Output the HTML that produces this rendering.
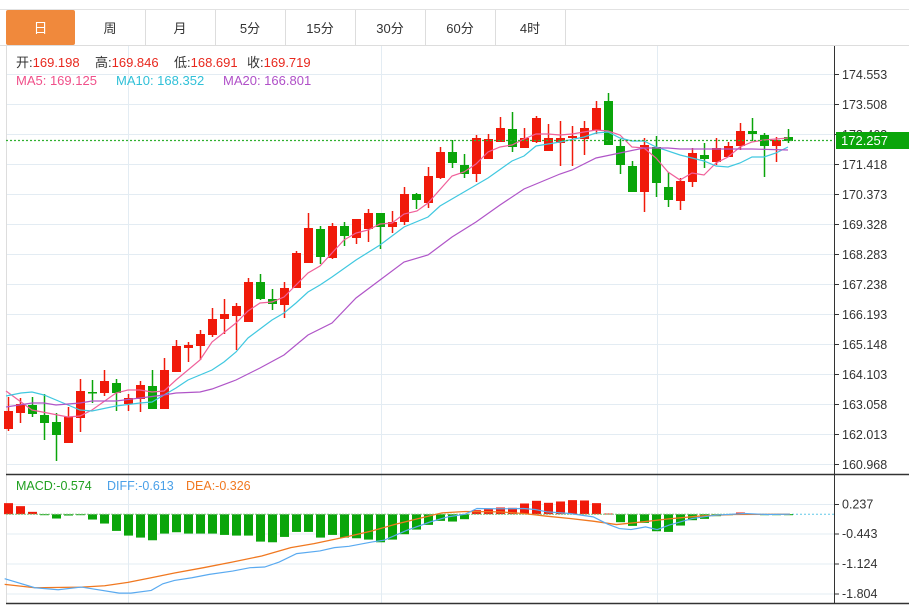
<!DOCTYPE html>
<html><head><meta charset="utf-8"><style>
body{margin:0;background:#fff;width:909px;height:606px;overflow:hidden;font-family:"Liberation Sans","Noto Sans CJK SC",sans-serif}
</style></head><body>
<svg id="s" width="909" height="606" xmlns="http://www.w3.org/2000/svg" font-family="Liberation Sans, Noto Sans CJK SC, sans-serif"></svg>
<script>
var s=document.getElementById('s'),h='';
function L(x1,y1,x2,y2,c,w,d){h+='<line x1="'+x1+'" y1="'+y1+'" x2="'+x2+'" y2="'+y2+'" stroke="'+c+'" stroke-width="'+(w||1)+'"'+(d?' stroke-dasharray="'+d+'"':'')+'/>';}
function R(x,y,w,hh,c){h+='<rect x="'+x+'" y="'+y+'" width="'+w+'" height="'+hh+'" fill="'+c+'"/>';}
function T(x,y,t,c,sz,a){h+='<text x="'+x+'" y="'+y+'" fill="'+c+'" font-size="'+(sz||12)+'"'+(a?' text-anchor="'+a+'"':'')+'>'+t+'</text>';}
function P(pts,c,w){h+='<polyline fill="none" stroke="'+c+'" stroke-width="'+(w||1.2)+'" points="'+pts.map(function(p){return p.join(',')}).join(' ')+'"/>';}
// tabs
L(0,9.5,909,9.5,'#e2e2e2');
h+='<rect x="6" y="10" width="69" height="35" rx="2" fill="#f0893c"/>';
T(40.5,33,'日','#fff',14,'middle');
var tabs=['周','月','5分','15分','30分','60分','4时'];
for(var i=0;i<tabs.length;i++){var x=75+70*i;T(x+35,33,tabs[i],'#333',13,'middle');L(x+70.5,10,x+70.5,45,'#ddd');}
L(0,45.5,909,45.5,'#ddd');
// grid
var lab=['174.553','173.508','172.463','171.418','170.373','169.328','168.283','167.238','166.193','165.148','164.103','163.058','162.013','160.968'];
for(var i=0;i<14;i++){var y=74+30*i;L(6,y+.5,834,y+.5,'#e3ecf3');L(834,y+.5,839,y+.5,'#333');T(842,y+5,lab[i],'#333',12.5);}
[128,381,657].forEach(function(x){L(x+.5,46,x+.5,603,'#e3ecf3');});
[504.5,534,564,594].forEach(function(y){L(6,y,834,y,'#e3ecf3');});
L(6.5,46,6.5,603,'#ddd');
L(834.5,46,834.5,603,'#333');
L(6,474.5,909,474.5,'#333',1.5);
L(6,603.5,909,603.5,'#333',1.5);
var C=[[411,429,397,431,1],[404,413,398,423,1],[405,414,397,417,0],[415,423,394,440,0],[422,435,413,461,0],[417,443,407,443,1],[391,418,379,432,1],[392,393,380,403,0],[381,393,370,396,1],[383,393,379,411,0],[398,404,394,411,1],[385,399,381,412,1],[386,409,370,409,0],[370,409,358,409,1],[346,372,340,372,1],[345,348,342,362,1],[334,346,330,360,1],[319,335,308,337,1],[314,319,299,334,1],[306,316,303,350,1],[282,322,278,322,1],[282,299,274,300,0],[299,304,289,310,0],[288,305,282,318,1],[253,288,251,288,1],[228,263,213,263,1],[229,257,226,264,0],[226,258,223,259,1],[226,236,222,246,0],[219,238,219,244,1],[213,229,209,242,1],[213,227,213,249,0],[222,227,211,233,1],[194,222,187,225,1],[194,200,193,209,0],[176,203,167,208,1],[152,178,147,179,1],[152,163,140,168,0],[165,174,154,178,0],[138,174,135,182,1],[139,159,134,159,1],[128,142,117,142,1],[129,147,112,152,0],[138,148,128,148,1],[118,142,116,143,1],[138,151,124,151,1],[138,143,121,166,1],[136,138,126,166,1],[128,139,121,155,1],[108,130,101,134,1],[101,145,93,145,0],[146,165,139,174,0],[166,192,161,192,0],[145,192,138,212,1],[147,183,136,197,0],[187,200,172,207,0],[181,201,178,210,1],[153,182,148,187,1],[155,159,143,168,0],[148,162,138,165,1],[146,157,142,157,1],[131,146,123,150,1],[131,134,118,141,0],[135,146,133,177,0],[140,146,137,162,1],[137,141,129,143,0]];
function X(i){return 8.5+12*i;}
C.forEach(function(c,i){var col=c[4]?'#f01a0a':'#0aa50a',x=X(i);L(x,c[2],x,c[3],col,1.5);R(x-4.5,c[0],9,Math.max(1.5,c[1]-c[0]),col);});
P([[6,391],[32,410],[68,417],[80,416],[92,410],[116,393],[128,390],[140,390],[152,392],[164,391],[176,380],[200,360],[212,342],[236,323],[248,311],[260,303],[272,302],[284,297],[296,285],[308,273],[320,266],[332,253],[344,240],[356,233],[368,230],[380,224],[392,223],[404,214],[417,211],[428,203],[452,176],[464,172],[476,164],[488,152],[500,147],[512,145],[524,139],[536,134],[548,134],[560,135],[572,134],[584,132],[596,130],[608,131],[620,135],[632,147],[644,148],[656,158],[668,172],[680,180],[692,173],[704,175],[716,163],[728,157],[740,147],[752,142],[764,140],[776,139],[788,138]],'#f0609a');
P([[6,396],[21,393],[32,392],[44,395],[68,405],[80,410],[92,411],[116,406],[140,403],[152,402],[164,395],[176,388],[188,380],[212,370],[224,362],[236,352],[248,338],[260,329],[272,320],[284,313],[296,303],[308,292],[320,285],[332,277],[356,260],[380,245],[404,227],[428,217],[440,206],[464,192],[488,178],[512,161],[524,156],[536,146],[560,142],[584,137],[596,133],[608,132],[620,138],[632,141],[644,141],[656,147],[680,155],[704,161],[716,166],[728,167],[740,163],[752,157],[764,157],[776,153],[788,147]],'#40c8e0');
P([[6,407],[32,403],[44,403],[56,405],[80,403],[92,401],[116,401],[140,398],[164,395],[176,393],[200,392],[212,389],[236,380],[260,368],[284,355],[308,335],[332,323],[356,298],[380,280],[404,262],[428,255],[452,237],[476,222],[500,205],[524,189],[536,184],[560,174],[572,170],[596,158],[620,153],[644,148],[668,148],[680,149],[728,149],[752,149],[788,150]],'#b055c8');
L(6,140.5,834,140.5,'#30b030',1.2,'2,2');
R(836,132,73,17,'#0aa50a');T(841,145,'172.257','#fff',13);
// legend
function KV(x,k,v){h+='<text x="'+x+'" y="67" font-size="13"><tspan fill="#333">'+k+'</tspan><tspan fill="#e8281e">'+v+'</tspan></text>';}
KV(16,'开:','169.198');KV(95,'高:','169.846');KV(174,'低:','168.691');KV(247,'收:','169.719');
T(16,85,'MA5: 169.125','#f0508a',13);T(116,85,'MA10: 168.352','#30c0d8',13);T(223,85,'MA20: 166.801','#b050c8',13);
T(16,490,'MACD:-0.574','#20a020',12.5);T(107,490,'DIFF:-0.613','#4aa0e8',12.5);T(186,490,'DEA:-0.326','#f07820',12.5);
[['0.237',504.5],['-0.443',534],['-1.124',564],['-1.804',594]].forEach(function(a){L(834,a[1],839,a[1],'#333');T(842,a[1]+4,a[0],'#333',12.5);});
var zero=514.2;
L(788,zero,834,zero,'#60c8e8',1,'2,2');
var M=[129,138,155,165,175,166,164,178,190,212,226,232,240,220,216,220,220,220,224,226,226,244,246,230,215,215,232,224,232,234,238,246,238,222,208,194,182,184,177,150,147,142,143,130,122,128,124,120,121,129,160,186,197,188,213,215,196,180,176,168,165,157,160,165,163,163];
M.forEach(function(z,i){var y=z/2.99+460,x=X(i);var top=Math.min(y,zero),hh=Math.max(1,Math.abs(y-zero));R(x-4.5,top,9,hh,z<162?'#f01a0a':'#0aa50a');});
L(6,zero,790,zero,'#7ac07a',1,'2,1');
function Z(a){return a.map(function(p){return [p[0]*0.5816,p[1]/2.99+460];});}
P(Z([[8,372],[60,382],[140,380],[180,376],[220,366],[260,352],[300,338],[350,322],[400,305],[450,287],[500,262],[540,250],[600,228],[640,212],[680,192],[720,175],[760,158],[800,154],[860,155],[900,160],[940,168],[980,175],[1020,183],[1060,193],[1100,186],[1150,176],[1200,168],[1260,163],[1358,162]]),'#f07820',1.3);
P(Z([[8,355],[60,382],[100,388],[140,380],[205,398],[225,398],[260,390],[280,370],[300,360],[330,352],[360,342],[400,332],[430,322],[455,320],[480,305],[510,280],[550,272],[575,262],[600,258],[640,245],[660,240],[700,210],[740,185],[770,170],[800,162],[820,145],[860,146],[900,145],[920,148],[940,155],[980,160],[1020,170],[1045,192],[1065,205],[1085,208],[1110,200],[1130,208],[1150,195],[1190,175],[1230,165],[1280,160],[1320,163],[1358,162]]),'#5aaaf0',1.2);
s.innerHTML=h;
</script>
</body></html>
